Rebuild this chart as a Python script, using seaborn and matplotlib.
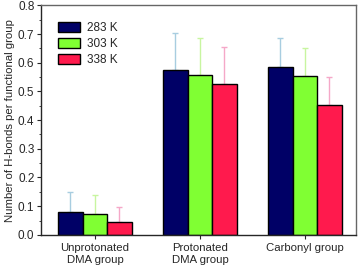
import pandas as pd
import matplotlib
matplotlib.use("Agg")
import matplotlib.pyplot as plt
import seaborn as sns
from matplotlib.ticker import MultipleLocator

# Data
groups = ["Unprotonated\nDMA group", "Protonated\nDMA group", "Carbonyl group"]
temps = ["283 K", "303 K", "338 K"]
h283 = [0.080, 0.574, 0.584]
h303 = [0.073, 0.557, 0.553]
h338 = [0.045, 0.525, 0.452]
err283 = [0.070, 0.129, 0.101]
err303 = [0.066, 0.128, 0.097]
err338 = [0.052, 0.129, 0.098]

bar_colors = ["#000066", "#80ff33", "#ff1a4d"]
err_colors = ["#a8cde0", "#c8f5a0", "#f5a8c8"]

df = pd.DataFrame({
    "group": groups * 3,
    "temp": [t for t in temps for _ in groups],
    "value": h283 + h303 + h338,
    "err": err283 + err303 + err338,
})

sns.set_style("ticks")
plt.rcParams["font.family"] = ["Liberation Sans", "DejaVu Sans"]

fig, ax = plt.subplots(figsize=(3.6, 2.66), dpi=100)
sns.barplot(data=df, x="group", y="value", hue="temp", palette=bar_colors,
            saturation=1, width=0.7, edgecolor="black", linewidth=1.0,
            ax=ax, errorbar=None)

# error bars (upper only), drawn from the bar patches
bar_conts = list(ax.containers)
for k, cont in enumerate(bar_conts):
    sub = df[df["temp"] == temps[k]]
    for patch, v, e in zip(cont.patches, sub["value"], sub["err"]):
        xc = patch.get_x() + patch.get_width() / 2
        ax.errorbar(xc, v, yerr=[[0], [e]], fmt="none", ecolor=err_colors[k],
                    elinewidth=1.0, capsize=2.5, capthick=1.0, zorder=0.5)

ax.set_xlim(-0.51, 2.49)
ax.set_ylim(0, 0.8)
ax.yaxis.set_major_locator(MultipleLocator(0.1))
ax.yaxis.set_minor_locator(MultipleLocator(0.05))
ax.set_xlabel("")
ax.set_ylabel("Number of H-bonds per functional group", fontsize=8.2, labelpad=2)
ax.tick_params(axis="y", labelsize=8.5, length=3, width=0.8, pad=2)
ax.tick_params(axis="x", labelsize=8.2, length=3, width=0.8, pad=3)
ax.tick_params(axis="y", which="minor", length=1.5)
for s in ax.spines.values():
    s.set_visible(True)
    s.set_linewidth(1.0)
ax.spines["top"].set_color("#666666")
ax.spines["right"].set_color("#666666")

ax.legend(loc="upper left", frameon=False, fontsize=8.5, handlelength=1.9,
          handleheight=0.9, borderaxespad=1.0, labelspacing=0.35,
          handletextpad=0.6)

plt.subplots_adjust(left=0.115, right=0.99, top=0.98, bottom=0.117)
fig.savefig("out.png", dpi=100)
